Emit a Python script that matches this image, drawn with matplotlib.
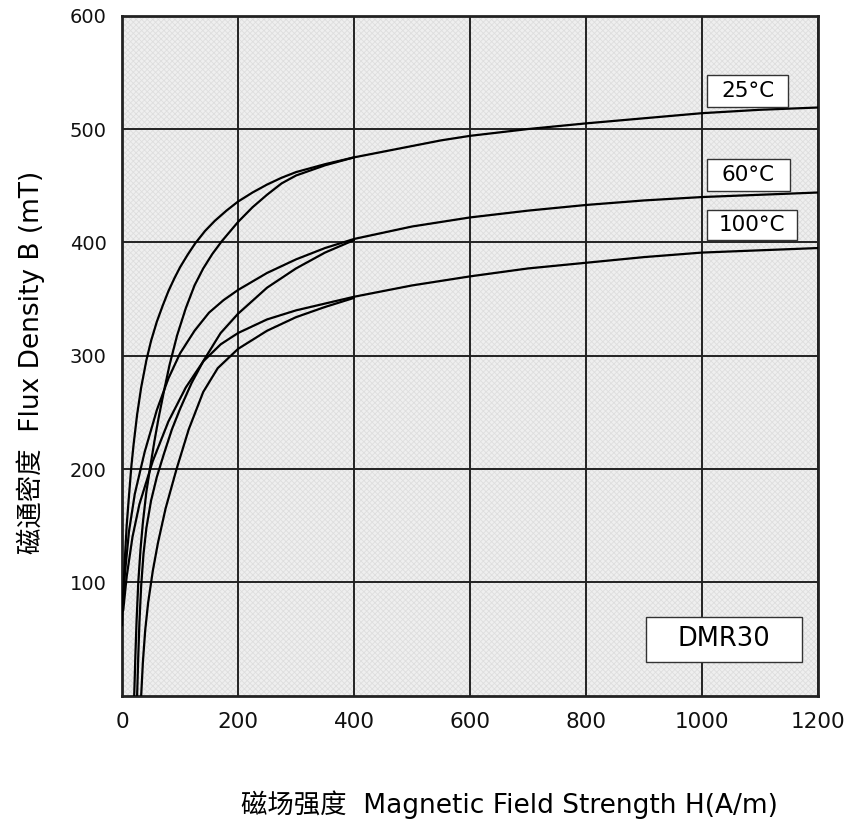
import matplotlib
matplotlib.use("Agg")
import matplotlib.pyplot as plt
from matplotlib.patches import Rectangle

plt.rcParams['font.family'] = ['DejaVu Sans', 'Noto Sans CJK SC']
plt.rcParams['hatch.linewidth'] = 0.6

# B-H curves: upper (U) and lower (L) branch per temperature
h_25u = [0, 1.5, 3, 5, 8, 11, 16, 20, 26, 33, 42, 50, 60, 70, 80, 90, 100, 113, 126, 143,
         160, 180, 200, 225, 250, 275, 300, 350, 400, 450, 500, 550, 600, 700, 800, 900,
         1000, 1100, 1200]
b_25u = [62, 82, 100, 122, 150, 170, 202, 222, 248, 272, 296, 313, 330, 344, 357, 368, 378,
         389, 399, 410, 419, 428, 436, 444, 451, 457, 462, 469, 475, 480, 485, 490, 494, 500,
         505, 509.5, 514, 517, 519]
h_25l = [21, 23, 25, 28, 32, 36, 42, 49, 56, 63, 72, 82, 95, 110, 125, 140, 156, 172, 200,
         225, 250, 275, 300, 350, 400]
b_25l = [0, 35, 65, 100, 130, 153, 180, 203, 225, 245, 268, 292, 318, 342, 362, 377, 390,
         401, 418, 431, 442, 452, 459, 468, 475]

h_60u = [1, 5, 12, 22, 39, 60, 80, 100, 125, 150, 175, 200, 250, 300, 350, 400, 500, 600,
         700, 800, 900, 1000, 1100, 1200]
b_60u = [75, 108, 145, 178, 215, 252, 280, 302, 322, 338, 349, 358, 373, 385, 395, 403, 414,
         422, 428, 433, 437, 440, 442, 444]
h_60l = [26, 28, 30, 33, 37, 42, 50, 60, 72, 86, 100, 120, 141, 170, 200, 250, 300, 350, 400]
b_60l = [0, 35, 65, 97, 125, 148, 172, 193, 213, 235, 253, 276, 296, 320, 337, 360, 377, 391,
         402]

h_100u = [2, 8, 18, 30, 53, 80, 110, 140, 170, 200, 250, 300, 350, 400, 500, 600, 700, 800,
          900, 1000, 1100, 1200]
b_100u = [75, 105, 140, 169, 207, 242, 272, 295, 310, 320, 332, 340, 346, 352, 362, 370, 377,
          382, 387, 391, 393, 395]
h_100l = [33, 36, 40, 45, 53, 62, 75, 94, 115, 140, 165, 200, 250, 300, 350, 400]
b_100l = [0, 30, 58, 82, 110, 135, 165, 200, 235, 268, 289, 306, 322, 334, 343, 351]

temp_labels = ["25°C", "60°C", "100°C"]
x_ticks = [0, 200, 400, 600, 800, 1000, 1200]
y_ticks = [100, 200, 300, 400, 500, 600]

fig = plt.figure(figsize=(8.51, 8.23), dpi=100)
ax = fig.add_axes([0.1434, 0.1547, 0.9612 - 0.1434, 0.9809 - 0.1547])

ax.set_facecolor('#efefef')
ax.add_patch(Rectangle((0, 0), 1, 1, transform=ax.transAxes, facecolor='none',
                       edgecolor='#dedede', hatch='xxxxxx', lw=0, zorder=0))

curves = [(h_25u, b_25u), (h_25l, b_25l), (h_60u, b_60u), (h_60l, b_60l),
          (h_100u, b_100u), (h_100l, b_100l)]
for h, b in curves:
    ax.plot(h, b, color='black', lw=1.6, zorder=3, solid_capstyle='round',
            solid_joinstyle='round')

ax.set_xlim(0, 1200)
ax.set_ylim(0, 600)
ax.set_xticks(x_ticks)
ax.set_yticks(y_ticks)
ax.tick_params(axis='both', length=0, labelcolor='#111111')
ax.tick_params(axis='x', labelsize=15.5, pad=12)
ax.tick_params(axis='y', labelsize=14, pad=11)
ax.grid(True, color='#222222', lw=1.4, zorder=1)
ax.set_axisbelow(True)
for s in ax.spines.values():
    s.set_linewidth(2)
    s.set_color('#222222')

# label boxes (axes fraction: x0, x1, y0, y1)
boxes = [(0.8405, 0.9569, 0.8657, 0.9128),
         (0.8405, 0.9598, 0.7422, 0.7893),
         (0.8405, 0.9698, 0.6701, 0.7143)]
for (x0, x1, y0, y1), lab in zip(boxes, temp_labels):
    ax.add_patch(Rectangle((x0, y0), x1 - x0, y1 - y0, transform=ax.transAxes,
                           facecolor='white', edgecolor='#333333', lw=1, zorder=5))
    ax.text((x0 + x1) / 2, (y0 + y1) / 2, lab, transform=ax.transAxes,
            ha='center', va='center', fontsize=15.5, zorder=6)

ax.add_patch(Rectangle((0.7524, 0.0496), 0.977 - 0.7524, 0.1157 - 0.0496,
                       transform=ax.transAxes, facecolor='white',
                       edgecolor='#333333', lw=1, zorder=5))
ax.text((0.7524 + 0.977) / 2, (0.0496 + 0.1157) / 2, "DMR30", transform=ax.transAxes,
        ha='center', va='center', fontsize=18.5, zorder=6)

fig.text(0.599, 0.022, "磁场强度  Magnetic Field Strength H(A/m)",
         ha='center', va='center', fontsize=19)
fig.text(0.036, 0.56, "磁通密度  Flux Density B (mT)", rotation=90,
         ha='center', va='center', fontsize=19)

fig.savefig("out.png", dpi=100)
